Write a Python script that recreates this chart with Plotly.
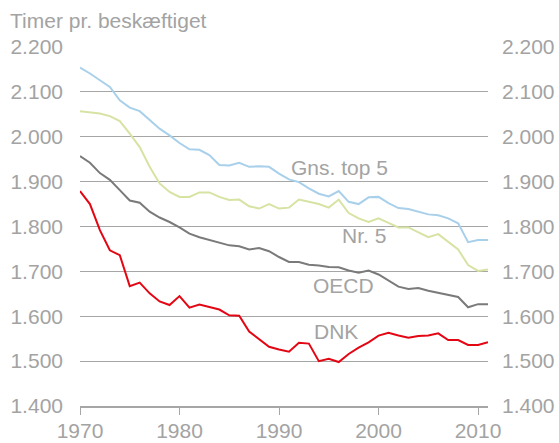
import plotly.graph_objects as go

years = list(range(1970, 2012))

gns_top5 = [2154, 2141, 2126, 2111, 2081, 2065, 2057, 2037, 2018, 2003,
            1986, 1972, 1971, 1959, 1937, 1936, 1942, 1933, 1934, 1933,
            1918, 1905, 1899, 1885, 1873, 1867, 1879, 1855, 1850, 1865,
            1866, 1852, 1841, 1839, 1833, 1827, 1825, 1818, 1807, 1765,
            1770, 1770]

nr5 = [2057, 2055, 2052, 2046, 2035, 2007, 1977, 1933, 1896, 1877,
       1866, 1866, 1876, 1876, 1866, 1859, 1860, 1845, 1840, 1850,
       1840, 1842, 1860, 1855, 1850, 1842, 1860, 1830, 1818, 1810,
       1818, 1808, 1798, 1798, 1787, 1776, 1783, 1767, 1749, 1714,
       1701, 1704]

oecd = [1957, 1942, 1919, 1904, 1881, 1858, 1853, 1833, 1820, 1810,
        1798, 1784, 1776, 1770, 1764, 1758, 1756, 1749, 1752, 1745,
        1732, 1721, 1721, 1715, 1713, 1710, 1709, 1702, 1697, 1702,
        1693, 1680, 1666, 1661, 1663, 1657, 1652, 1647, 1643, 1620,
        1627, 1627]

dnk = [1879, 1850, 1792, 1747, 1736, 1667, 1675, 1651, 1633, 1625,
       1645, 1619, 1626, 1621, 1615, 1602, 1601, 1566, 1548, 1532,
       1526, 1521, 1541, 1539, 1500, 1505, 1498, 1516, 1530, 1542,
       1557, 1563, 1557, 1552, 1556, 1557, 1562, 1547, 1547, 1536,
       1536, 1542]

series_names = ["Gns. top 5", "Nr. 5", "OECD", "DNK"]
label_pos = [(1996.1, 1932), (1998.5, 1781), (1996.5, 1669), (1995.7, 1565)]
colors = ["#A9D0EA", "#D6E3A3", "#7A7A7A", "#E30613"]

y_ticks = [1400, 1500, 1600, 1700, 1800, 1900, 2000, 2100, 2200]
x_ticks = [1970, 1980, 1990, 2000, 2010]

FONT = "Liberation Sans, Arial, sans-serif"
FS = 21
TXT = "#A3A3A3"
GRID = "#A6A6A6"

fig = go.Figure()
for name, vals, col in zip(series_names, [gns_top5, nr5, oecd, dnk], colors):
    fig.add_trace(go.Scatter(x=years, y=vals, mode="lines", name=name,
                             line=dict(color=col, width=2)))

# invisible copy so the right-hand axis is drawn
fig.add_trace(go.Scatter(x=years, y=dnk, mode="lines", yaxis="y2",
                         opacity=0, hoverinfo="skip", showlegend=False,
                         line=dict(color=colors[3], width=0)))

for name, (lx, ly) in zip(series_names, label_pos):
    fig.add_annotation(x=lx, y=ly, text=name, showarrow=False,
                       font=dict(family=FONT, size=FS, color=TXT),
                       xanchor="center", yanchor="middle")

fig.update_layout(
    width=559, height=443,
    margin=dict(l=80, r=71, t=47, b=37),
    paper_bgcolor="white", plot_bgcolor="white",
    showlegend=False,
    separators=",.",
    font=dict(family=FONT, size=FS, color=TXT),
    title=dict(text="Timer pr. beskæftiget", x=10 / 559, xanchor="left",
               xref="container", y=1 - 21 / 443, yref="container",
               yanchor="middle", automargin=False,
               font=dict(family=FONT, size=FS, color=TXT)),
    xaxis=dict(range=[1970, 2011], tickvals=x_ticks, showgrid=False,
               zeroline=False, showline=True, linecolor=GRID, linewidth=1.5,
               ticks="outside", ticklen=7, tickcolor=GRID, tickwidth=1,
               ticklabelstandoff=-2, automargin=False,
               tickfont=dict(family=FONT, size=FS, color=TXT)),
    yaxis=dict(range=[1400, 2200], tickvals=y_ticks, tickformat=",d",
               showgrid=True, gridcolor=GRID, gridwidth=1.2, zeroline=False,
               ticks="", ticklabelstandoff=16, automargin=False,
               tickfont=dict(family=FONT, size=FS, color=TXT)),
    yaxis2=dict(range=[1400, 2200], tickvals=y_ticks, tickformat=",d",
                overlaying="y", side="right", showgrid=False,
                zeroline=False, ticks="", ticklabelstandoff=13,
                automargin=False,
                tickfont=dict(family=FONT, size=FS, color=TXT)),
)

fig.write_html(
    "out.html",
    config={"displayModeBar": False},
    post_script="document.body.style.margin='0px';document.body.style.overflow='hidden';",
)
